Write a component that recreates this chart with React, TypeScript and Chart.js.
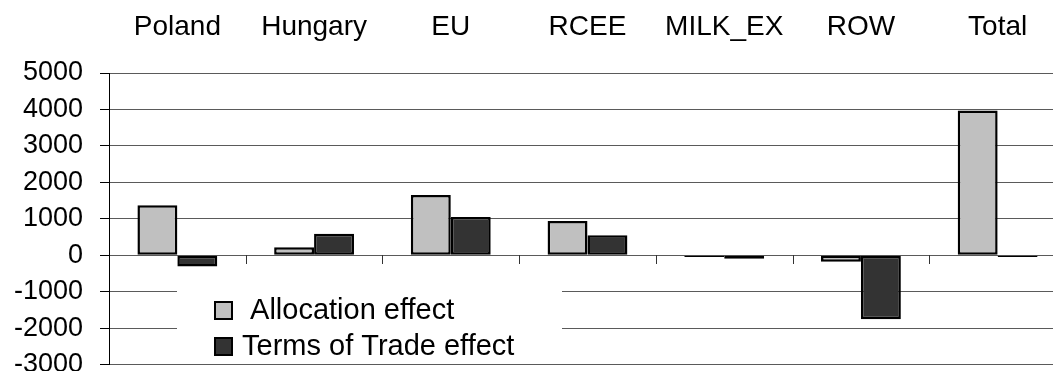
import { useEffect, useRef } from 'react';
import { Chart, registerables } from 'chart.js';

Chart.register(...registerables);

const categories = ['Poland', 'Hungary', 'EU', 'RCEE', 'MILK_EX', 'ROW', 'Total'];
const allocationEffect = [1370, 220, 1650, 940, -50, -180, 3970];
const termsOfTradeEffect = [-310, 590, 1050, 550, -100, -1760, -50];
const seriesLabels = [' Allocation effect', 'Terms of Trade effect'];
const seriesColors = ['#c0c0c0', '#333333'];
const yMin = -3000;
const yMax = 5000;
const yStep = 1000;

const FONT = "'Liberation Sans', Arial, sans-serif";

const zeroTicksPlugin = {
  id: 'zeroTicks',
  afterDatasetsDraw(chart: any) {
    const { ctx } = chart;
    const x = chart.scales.x;
    const y = chart.scales.y;
    const y0 = Math.round(y.getPixelForValue(0));
    ctx.save();
    ctx.strokeStyle = '#333';
    ctx.lineWidth = 1;
    for (let i = 1; i < categories.length; i++) {
      const px = Math.round((x.getPixelForValue(i - 1) + x.getPixelForValue(i)) / 2) + 0.5;
      ctx.beginPath();
      ctx.moveTo(px, y0);
      ctx.lineTo(px, y0 + 9);
      ctx.stroke();
    }
    ctx.restore();
  },
};

const boxLegendPlugin = {
  id: 'boxLegend',
  afterDraw(chart: any) {
    const { ctx, chartArea } = chart;
    const bx = chartArea.left + 68;
    const by = chartArea.top + 205;
    const bw = 385;
    const bh = 80;
    ctx.save();
    ctx.fillStyle = '#ffffff';
    ctx.fillRect(bx, by, bw, bh);
    ctx.font = `29px ${FONT}`;
    ctx.textBaseline = 'alphabetic';
    ctx.textAlign = 'left';
    chart.data.datasets.forEach((ds: any, i: number) => {
      const sq = 19;
      const sx = bx + 37;
      const sy = by + 23 + i * 36;
      ctx.fillStyle = ds.backgroundColor;
      ctx.fillRect(sx, sy, sq, sq);
      ctx.strokeStyle = '#000';
      ctx.lineWidth = 2;
      ctx.strokeRect(sx + 1, sy + 1, sq - 2, sq - 2);
      ctx.fillStyle = '#000';
      ctx.fillText(ds.label, bx + 65, by + 40.5 + i * 36);
    });
    ctx.restore();
  },
};

export default function App() {
  const ref = useRef<HTMLCanvasElement | null>(null);

  useEffect(() => {
    if (!ref.current) return;
    const chart = new Chart(ref.current, {
      type: 'bar',
      data: {
        labels: categories,
        datasets: [
          {
            label: seriesLabels[0],
            data: allocationEffect,
            backgroundColor: seriesColors[0],
            borderColor: '#000',
            borderWidth: 2.5,
            borderSkipped: false,
            barPercentage: 1,
            categoryPercentage: 0.584,
          },
          {
            label: seriesLabels[1],
            data: termsOfTradeEffect,
            backgroundColor: seriesColors[1],
            borderColor: '#000',
            borderWidth: 2.5,
            borderSkipped: false,
            barPercentage: 1,
            categoryPercentage: 0.584,
          },
        ],
      },
      options: {
        responsive: false,
        animation: false,
        layout: { padding: { left: 0, top: 0, right: 14, bottom: 30.5 } },
        plugins: {
          legend: { display: false },
          tooltip: { enabled: false },
        },
        scales: {
          x: {
            position: 'top',
            grid: { display: false, drawTicks: false },
            border: { display: false },
            ticks: {
              padding: 29,
              autoSkip: false,
              maxRotation: 0,
              color: '#000',
              font: { family: FONT, size: 28 },
            },
            afterFit: (s: any) => {
              s.height = 73;
            },
          },
          y: {
            min: yMin,
            max: yMax,
            ticks: {
              stepSize: yStep,
              padding: 17,
              color: '#000',
              font: { family: FONT, size: 27 },
              callback: (v: any) => String(v),
            },
            grid: {
              color: '#5a5a5a',
              lineWidth: 1,
              drawTicks: true,
              tickLength: 9,
              tickColor: '#000',
            },
            border: { display: true, color: '#000', width: 1 },
            afterFit: (s: any) => {
              s.width = 109;
              s.paddingTop = 0;
              s.paddingBottom = 0;
            },
          },
        },
      },
      plugins: [zeroTicksPlugin, boxLegendPlugin],
    } as any);
    return () => chart.destroy();
  }, []);

  return (
    <div
      style={{
        position: 'fixed',
        left: 0,
        top: 0,
        width: 1053,
        height: 371,
        overflow: 'hidden',
        background: '#fff',
      }}
    >
      <canvas ref={ref} width={1080} height={395} style={{ display: 'block' }} />
    </div>
  );
}
